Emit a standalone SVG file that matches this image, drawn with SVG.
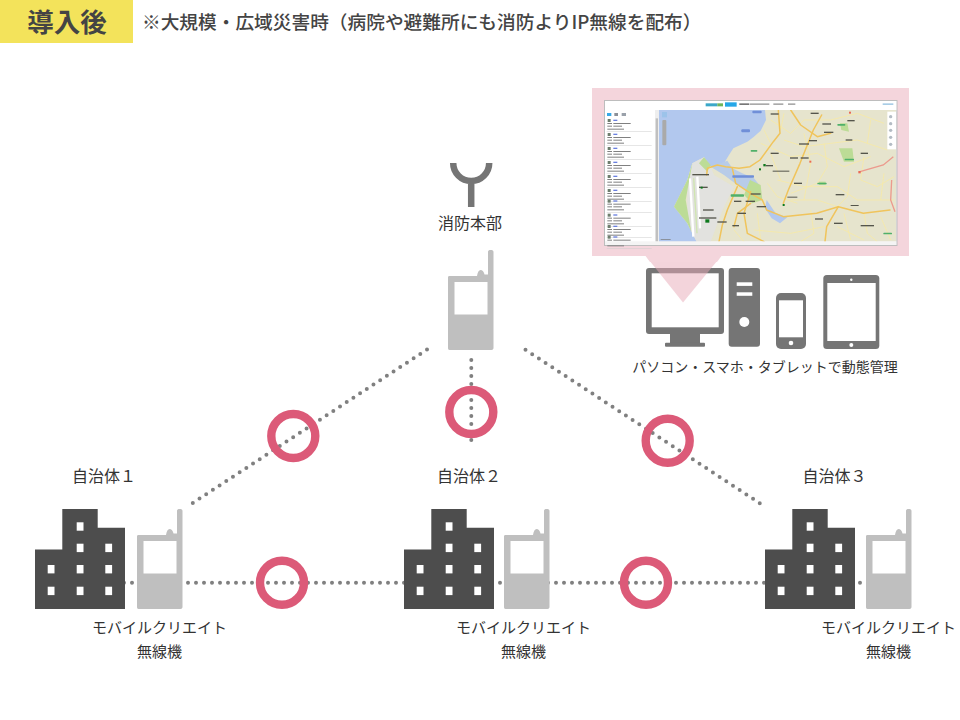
<svg xmlns="http://www.w3.org/2000/svg" xmlns:xlink="http://www.w3.org/1999/xlink" width="960" height="720" viewBox="0 0 960 720">
<style>
text{font-family:"Noto Sans CJK JP","Noto Sans",sans-serif;fill:#333}
.c{text-anchor:middle}
.l15{font-size:15px}
.l16{font-size:16px}
.dot{fill:none;stroke:#808080;stroke-width:4;stroke-linecap:round;stroke-dasharray:0 8}
.ring{fill:none;stroke:#dc5a78;stroke-width:8.400}
.dev{fill:#757575}
.scr{fill:#fff}
.road{fill:none;stroke:#f0c45c;stroke-width:4.500;stroke-linecap:round;stroke-linejoin:round}
.thin{fill:none;stroke:#f7e9a6;stroke-width:2.500}
.lbl{fill:#55554c}
.row{fill:#808080}
</style>
<defs>
<filter id="soft" x="-2%" y="-2%" width="104%" height="104%"><feGaussianBlur stdDeviation="1.300"/></filter>
<symbol id="building" width="90" height="100" viewBox="0 0 90 100" overflow="visible">
<path fill="#4d4d4d" d="M0 100V40.500H27.300V0H62.700V18.800H90V100Z"/>
<g fill="#fff">
<rect x="41.700" y="13.300" width="6.800" height="8.400"/>
<rect x="41.700" y="34.700" width="6.800" height="8.400"/><rect x="70.300" y="34.700" width="6.800" height="8.400"/>
<rect x="12.700" y="56" width="6.800" height="8.400"/><rect x="41.700" y="56" width="6.800" height="8.400"/><rect x="70.300" y="56" width="6.800" height="8.400"/>
<rect x="12.700" y="77.700" width="6.800" height="8.400"/><rect x="41.700" y="77.700" width="6.800" height="8.400"/><rect x="70.300" y="77.700" width="6.800" height="8.400"/>
</g>
</symbol>
<symbol id="radio" width="46" height="100" viewBox="0 0 46 100" overflow="visible">
<path fill="#bfbfbf" d="M1.500 26H29C29.500 22 31 20 32.500 20C34.500 20 36 22 36.500 24.500H40V2C40 .5 41 0 42.700 0C44.500 0 45.500 .5 45.500 2V98C45.500 99.200 44.700 100 43.500 100H1.500C.500 100 0 99.200 0 98V27.500C0 26.500 .5 26 1.500 26Z"/>
<rect class="scr" x="6.500" y="32" width="33" height="32.500"/>
</symbol>
<symbol id="row" width="150" height="42" viewBox="0 0 150 42" overflow="visible">
<rect x="8" y="0" width="9" height="9" fill="#6d7d6d"/>
<rect x="25" y="2" width="12" height="4" fill="#6a80e0"/>
<rect x="7" y="12" width="14" height="3" class="row"/><rect x="25" y="12" width="52" height="3" class="row"/>
<rect x="7" y="20" width="14" height="3" class="row"/><rect x="25" y="20" width="26" height="3" class="row"/>
<rect x="7" y="29" width="50" height="3" class="row"/>
<rect x="5" y="37" width="135" height="1.500" fill="#ccc"/>
</symbol>
</defs>
<rect width="960" height="720" fill="#fff"/>

<g id="header">
<rect x="0" y="0" width="133" height="43" fill="#f3e35b"/>
<text x="67" y="32" class="c" font-size="26.500" font-weight="700" style="fill:#444">導入後</text>
<text x="142" y="29" font-size="18.700" font-weight="500" style="fill:#444">※大規模・広域災害時（病院や避難所にも消防よりIP無線を配布）</text>
</g>

<g id="connectors">
<path class="dot" d="M124 582.700H862"/>
<path class="dot" d="M471.300 360V442"/>
<path class="dot" d="M427 349.500L190.500 504.500"/>
<path class="dot" d="M525.500 349.800L761 504"/>
</g>

<g id="marks">
<circle class="ring" cx="293.300" cy="436" r="22"/>
<circle class="ring" cx="471.300" cy="412" r="22"/>
<circle class="ring" cx="667.700" cy="440.700" r="22"/>
<circle class="ring" cx="282" cy="582.700" r="22"/>
<circle class="ring" cx="646" cy="582.700" r="22"/>
</g>

<g id="hq">
<path d="M453.200 163A18 18 0 0 0 489.200 163M471.200 181V207" fill="none" stroke="#757575" stroke-width="6.500"/>
<text x="470" y="229" class="c l16">消防本部</text>
<use xlink:href="#radio" href="#radio" x="448" y="250"/>
</g>

<g id="city1">
<text x="104" y="482" class="c l16">自治体１</text>
<use xlink:href="#building" href="#building" x="35" y="509"/>
<use xlink:href="#radio" href="#radio" x="137" y="509"/>
<text x="159.500" y="633" class="c l15">モバイルクリエイト</text>
<text x="159.500" y="657" class="c l15">無線機</text>
</g>
<g id="city2">
<text x="469" y="482" class="c l16">自治体２</text>
<use xlink:href="#building" href="#building" x="404" y="509"/>
<use xlink:href="#radio" href="#radio" x="504" y="509"/>
<text x="523.500" y="633" class="c l15">モバイルクリエイト</text>
<text x="523.500" y="657" class="c l15">無線機</text>
</g>
<g id="city3">
<text x="834.500" y="482" class="c l16">自治体３</text>
<use xlink:href="#building" href="#building" x="765" y="509"/>
<use xlink:href="#radio" href="#radio" x="866" y="509"/>
<text x="888.500" y="633" class="c l15">モバイルクリエイト</text>
<text x="888.500" y="657" class="c l15">無線機</text>
</g>

<g id="devices">
<rect class="dev" x="646" y="268" width="78" height="66" rx="3"/>
<rect class="scr" x="651.700" y="273.300" width="67" height="54"/>
<rect class="dev" x="670" y="334" width="30" height="10"/>
<rect class="dev" x="665" y="342.700" width="40" height="4" rx="1"/>
<rect class="dev" x="728.700" y="268" width="31.300" height="78.700" rx="3"/>
<rect class="scr" x="736.700" y="282.300" width="15.600" height="3.600"/>
<rect class="scr" x="736.700" y="292.300" width="15.600" height="3.500"/>
<circle class="scr" cx="744.300" cy="322" r="5"/>
<rect class="dev" x="776" y="293" width="30" height="56" rx="5"/>
<rect class="scr" x="779" y="300.300" width="24" height="37"/>
<circle class="scr" cx="791" cy="343" r="2.300"/>
<rect class="dev" x="823.300" y="275" width="56" height="74" rx="3.500"/>
<rect class="scr" x="827.300" y="283" width="48.400" height="58"/>
<circle class="scr" cx="851.300" cy="279.700" r="1.200"/>
<circle class="scr" cx="851.300" cy="345" r="2"/>
<text x="765" y="372" class="c" font-size="14px">パソコン・スマホ・タブレットで動態管理</text>
</g>

<g id="callout">
<path d="M645 255L683 302.500L722 255Z" fill="#e8a9b8" fill-opacity=".5"/>
<rect x="592" y="88" width="317" height="168" fill="#f4d5dc"/>
<path d="M645 255H722L717 262H650Z" fill="#f4d5dc"/>
<rect x="604" y="100" width="293.500" height="146" fill="#bdbdbd"/>
<g transform="translate(604 100) scale(.33333)">
<g filter="url(#soft)">
<rect x="3" y="3" width="874" height="432" fill="#fff"/>
<rect x="165" y="30" width="711" height="395" fill="#e6e4cd"/>
<path fill="#b2c8ee" d="M165 30H483L486 60L470 92L448 112L430 125L388 145L375 165L360 190L320 200L300 172L265 190L250 240L210 320L250 370L278 425H165Z"/>
<path fill="#b8cce8" d="M320 200L370 182L385 205L415 220L450 235L470 260L440 275L400 255L360 225Z"/>
<path fill="#e2e2df" d="M265 190L300 172L320 200L330 225L390 260L360 320L350 345L320 425H278L250 370L250 240Z"/>
<path fill="#bcdc96" d="M265 190L250 240L210 320L250 370L262 395L245 300Z"/>
<path fill="#bcdc96" d="M300 172L320 195L310 215L285 190Z"/>
<g fill="none" stroke="#fff" stroke-width="7"><path d="M258 235L268 410"/><path d="M280 230L288 385"/></g>
<g fill="none" stroke="#cfe5b0" stroke-width="4"><path d="M269 235L279 400"/></g>
<path fill="#bcdc96" d="M438 240L470 255L475 300L445 310L420 285Z"/>
<path fill="#b2c8ee" d="M488 300L515 340L550 352L528 370L503 355L483 325Z"/>
<path fill="#bcdc96" d="M708 70H730L735 95L712 90Z"/>
<path fill="#bcdc96" d="M705 145H745L750 185H720Z"/>
<path fill="#bcdc96" d="M645 245H665V255H645Z"/>
<path class="thin" d="M470 130L560 170L640 160L720 200L800 170M520 240L600 260L700 260L760 300L870 300M560 300L640 300L700 320M450 390L560 400L660 380M600 100L620 190L600 300M740 220L730 290L700 320M780 340L790 400L820 425M500 160L530 240M700 380L780 420M500 60L560 100L600 60L680 60L760 40L840 70M540 120L600 140L680 130L760 120L850 150M660 130L670 200L640 250L560 280M780 170L770 240L820 260L870 230M490 250L520 290L580 310M620 330L630 400L590 425M720 340L740 420M830 350L860 420M460 340L470 420M390 390L420 425M540 40L530 90M800 60L790 130M840 220L830 300M480 90L500 130"/>
<path class="road" d="M653 45L628 90L588 190L553 270L538 310"/>
<path class="road" d="M523 30L528 100L508 125L468 180L438 200L405 205L365 200L340 195L310 205L308 225"/>
<path class="road" d="M385 205L395 250L440 280L475 300L488 330L538 350L638 340L703 320L778 340L858 330"/>
<path class="road" d="M703 320L668 380L663 425"/>
<path class="road" d="M400 260L370 330L355 375L345 425"/>
<path class="road" d="M440 310L400 340L390 380"/>
<path class="road" d="M560 30L590 75L640 110L680 100"/>
<path class="road" d="M440 275L420 340L430 400L480 425"/>
<path fill="none" stroke="#ec9a8d" stroke-width="4" d="M768 215L838 195L868 170M863 240L860 300L873 335"/>
<g class="lbl">
<rect x="500" y="40" width="24" height="4"/><rect x="620" y="38" width="24" height="4"/><rect x="655" y="70" width="26" height="4"/><rect x="660" y="95" width="28" height="4"/><rect x="730" y="60" width="22" height="4"/><rect x="585" y="130" width="30" height="4"/><rect x="500" y="158" width="24" height="4"/><rect x="558" y="172" width="24" height="4"/><rect x="590" y="172" width="24" height="4"/><rect x="725" y="118" width="20" height="4"/><rect x="770" y="158" width="22" height="4"/><rect x="485" y="195" width="22" height="4"/><rect x="506" y="212" width="50" height="3"/><rect x="570" y="248" width="24" height="4"/><rect x="695" y="282" width="26" height="4"/><rect x="633" y="355" width="24" height="4"/><rect x="690" y="368" width="26" height="4"/><rect x="770" y="375" width="40" height="4"/><rect x="440" y="280" width="30" height="4"/><rect x="425" y="302" width="28" height="4"/><rect x="458" y="318" width="28" height="4"/><rect x="285" y="260" width="26" height="4"/><rect x="297" y="328" width="32" height="4"/><rect x="285" y="352" width="52" height="4"/><rect x="340" y="364" width="28" height="4"/><rect x="265" y="222" width="50" height="4"/><rect x="400" y="338" width="26" height="4"/><rect x="385" y="375" width="20" height="4"/><rect x="390" y="302" width="22" height="4"/><rect x="615" y="120" width="24" height="4"/><rect x="550" y="290" width="30" height="3"/><rect x="740" y="315" width="24" height="3"/></g>
<g fill="#6f8fd8"><rect x="412" y="88" width="26" height="9" rx="3"/><rect x="445" y="32" width="28" height="8" rx="3"/><rect x="385" y="226" width="65" height="7" rx="2"/></g>
<g fill="#4fb06a"><rect x="380" y="283" width="40" height="7" rx="2"/><rect x="700" y="72" width="24" height="5" rx="2"/><rect x="722" y="176" width="28" height="5" rx="2"/><rect x="640" y="248" width="28" height="5" rx="2"/><rect x="838" y="398" width="26" height="5" rx="2"/><rect x="440" y="150" width="20" height="5" rx="2"/></g>
<g fill="#10791e"><rect x="478" y="192" width="7" height="7"/><rect x="465" y="205" width="6" height="6"/><rect x="536" y="312" width="6" height="6"/><rect x="304" y="358" width="12" height="10"/><rect x="290" y="260" width="6" height="6"/></g>
<g fill="#ea6a55"><rect x="616" y="182" width="6" height="6"/><rect x="735" y="35" width="6" height="6"/><rect x="763" y="213" width="7" height="7"/></g>
<rect x="153" y="30" width="12" height="395" fill="#eee"/>
<rect x="155" y="55" width="7" height="370" fill="#c0c0c0"/>
<rect x="3" y="30" width="150" height="395" fill="#fff"/>
<rect x="9" y="39" width="13" height="9" fill="#37a9e8"/><rect x="31" y="39" width="11" height="9" fill="#8b9098"/><rect x="53" y="39" width="13" height="9" fill="#9aa1aa"/>
<use xlink:href="#row" href="#row" x="3" y="57"/><use xlink:href="#row" href="#row" x="3" y="99"/><use xlink:href="#row" href="#row" x="3" y="141"/><use xlink:href="#row" href="#row" x="3" y="183"/><use xlink:href="#row" href="#row" x="3" y="225"/><use xlink:href="#row" href="#row" x="3" y="267"/><use xlink:href="#row" href="#row" x="3" y="299"/><use xlink:href="#row" href="#row" x="3" y="341"/><use xlink:href="#row" href="#row" x="3" y="375"/><use xlink:href="#row" href="#row" x="3" y="407"/>
<rect x="3" y="424" width="874" height="11" fill="#f4f4f4"/>
<rect x="3" y="3" width="874" height="27" fill="#fff"/>
<rect x="305" y="10" width="35" height="9" fill="#3aa7c8"/><rect x="340" y="10" width="17" height="9" fill="#6fb45a"/>
<rect x="363" y="7" width="35" height="13" fill="#27a7e7"/><rect x="406" y="10" width="30" height="5" fill="#777"/>
<rect x="438" y="10" width="58" height="5" fill="#aaa"/><rect x="508" y="10" width="30" height="5" fill="#aaa"/><rect x="552" y="10" width="22" height="5" fill="#aaa"/>
<rect x="836" y="10" width="32" height="5" fill="#a9cde6"/>
<rect x="174" y="36" width="15" height="16" fill="#9cc3ea"/>
<rect x="175" y="60" width="12" height="76" fill="#aaa" rx="3"/>
<rect x="850" y="35" width="26" height="113" fill="#fff"/>
<g fill="#b4bcc4"><circle cx="860" cy="50" r="5"/><circle cx="860" cy="71" r="5"/><circle cx="860" cy="91" r="5"/><circle cx="860" cy="112" r="5"/><circle cx="860" cy="133" r="5"/></g>
<rect x="170" y="418" width="30" height="2" fill="#777"/>
</g>
</g>
</g>
</svg>
